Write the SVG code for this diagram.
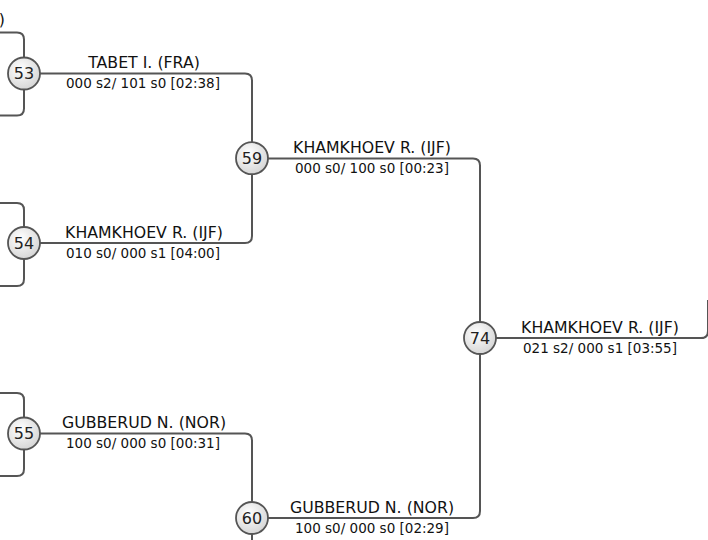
<svg xmlns="http://www.w3.org/2000/svg" width="708" height="540" viewBox="0 0 708 540">
<defs>
<radialGradient id="g" cx="0.4" cy="0.35" r="0.7">
<stop offset="0" stop-color="#ffffff"/>
<stop offset="1" stop-color="#d4d4d4"/>
</radialGradient>
<style>
.c{fill:none;stroke:#555;stroke-width:2}
.n circle{fill:url(#g);stroke:#555;stroke-width:1.8}
.num{font-family:"DejaVu Sans",sans-serif;font-size:16px;fill:#222;text-anchor:middle}
.nm{font-family:"DejaVu Sans",sans-serif;font-size:15.75px;fill:#111;text-anchor:middle}
.sc{font-family:"DejaVu Sans",sans-serif;font-size:13.5px;fill:#111;text-anchor:middle}
</style>
</defs>
<rect width="708" height="540" fill="#fff"/>
<g id="connectors">
<path class="c" d="M-10,32.5 H17 Q24,32.5 24,39.5 V73.5"/>
<path class="c" d="M-10,115.5 H17 Q24,115.5 24,108.5 V73.5"/>
<path class="c" d="M-10,203 H17 Q24,203 24,210 V243"/>
<path class="c" d="M-10,286 H17 Q24,286 24,279 V243"/>
<path class="c" d="M-10,393 H17 Q24,393 24,400 V433.5"/>
<path class="c" d="M-10,476 H17 Q24,476 24,469 V433.5"/>
<path class="c" d="M24,73.5 H245 Q252,73.5 252,80.5 V158"/>
<path class="c" d="M24,243 H245 Q252,243 252,236 V158"/>
<path class="c" d="M24,433.5 H245 Q252,433.5 252,440.5 V518"/>
<path class="c" d="M252,560 V518"/>
<path class="c" d="M252,158.5 H473 Q480,158.5 480,165.5 V338"/>
<path class="c" d="M252,518 H473 Q480,518 480,511 V338"/>
<path class="c" d="M480,338 H701 Q708,338 708,331 V300"/>
</g>
<g id="labels">
<text class="nm" x="5" y="25" style="text-anchor:end">)</text>
<text class="nm" x="144" y="68">TABET I. (FRA)</text>
<text class="sc" x="143" y="88">000 s2/ 101 s0 [02:38]</text>
<text class="nm" x="144" y="237.5">KHAMKHOEV R. (IJF)</text>
<text class="sc" x="143" y="257.5">010 s0/ 000 s1 [04:00]</text>
<text class="nm" x="144" y="428">GUBBERUD N. (NOR)</text>
<text class="sc" x="143" y="448">100 s0/ 000 s0 [00:31]</text>
<text class="nm" x="372" y="153">KHAMKHOEV R. (IJF)</text>
<text class="sc" x="372" y="173">000 s0/ 100 s0 [00:23]</text>
<text class="nm" x="372" y="512.5">GUBBERUD N. (NOR)</text>
<text class="sc" x="372" y="532.5">100 s0/ 000 s0 [02:29]</text>
<text class="nm" x="600" y="332.5">KHAMKHOEV R. (IJF)</text>
<text class="sc" x="600" y="352.5">021 s2/ 000 s1 [03:55]</text>
</g>
<g id="n53" class="n"><circle cx="24" cy="73.5" r="16"/><text class="num" x="24" y="79.3">53</text></g>
<g id="n54" class="n"><circle cx="24" cy="243" r="16"/><text class="num" x="24" y="248.8">54</text></g>
<g id="n55" class="n"><circle cx="24" cy="433.5" r="16"/><text class="num" x="24" y="439.3">55</text></g>
<g id="n59" class="n"><circle cx="252" cy="158.2" r="16"/><text class="num" x="252" y="164">59</text></g>
<g id="n60" class="n"><circle cx="252" cy="518" r="16"/><text class="num" x="252" y="523.8">60</text></g>
<g id="n74" class="n"><circle cx="480" cy="338" r="16"/><text class="num" x="480" y="343.8">74</text></g>
</svg>
